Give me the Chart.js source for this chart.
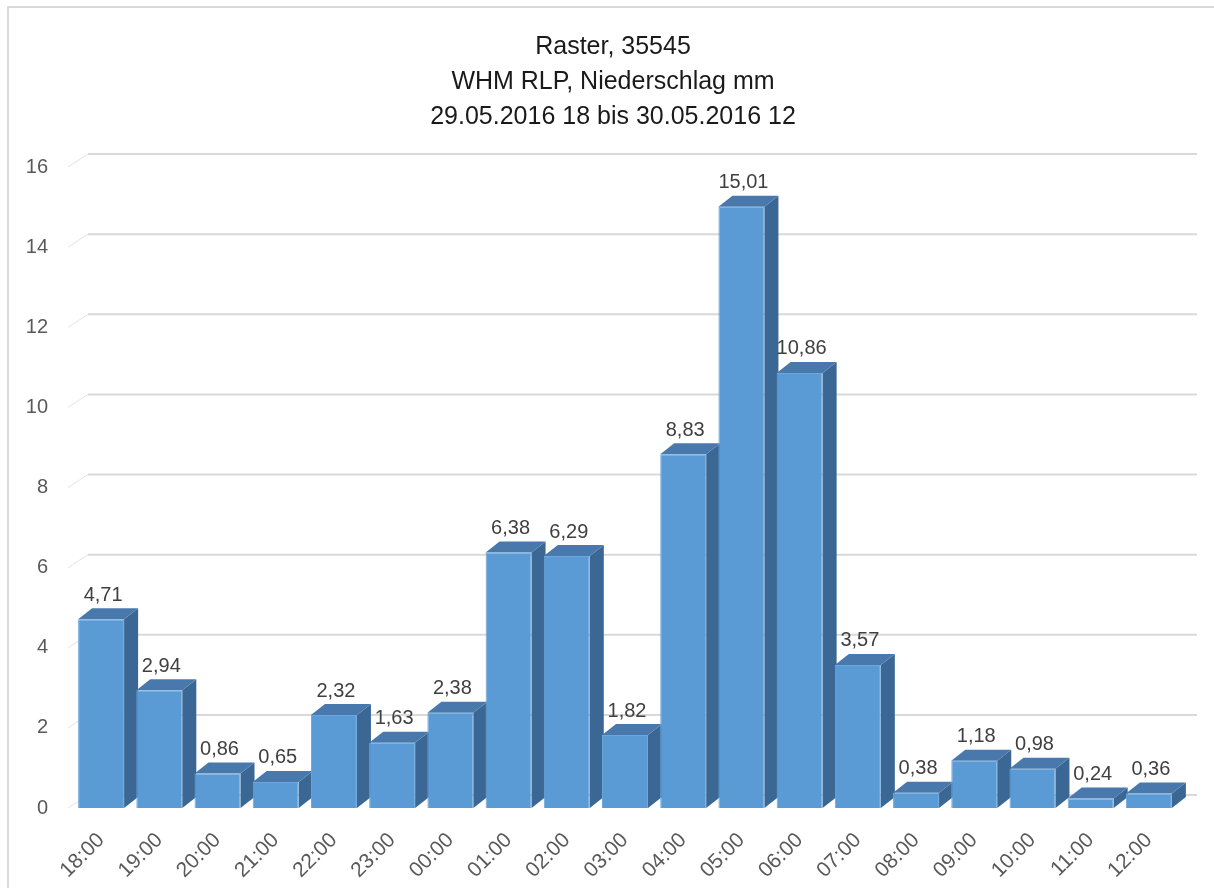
<!DOCTYPE html>
<html>
<head>
<meta charset="utf-8">
<script src="https://cdn.jsdelivr.net/npm/chart.js@4.4.1/dist/chart.umd.min.js"></script>
<style>
html,body{margin:0;padding:0;background:#fff;}
#wrap{width:1214px;height:888px;position:relative;}
</style>
</head>
<body>
<div id="wrap"><canvas id="c" width="1214" height="888"></canvas></div>
<script>
const categories = ["18:00","19:00","20:00","21:00","22:00","23:00","00:00","01:00","02:00","03:00","04:00","05:00","06:00","07:00","08:00","09:00","10:00","11:00","12:00"];
const precipitation = [4.71,2.94,0.86,0.65,2.32,1.63,2.38,6.38,6.29,1.82,8.83,15.01,10.86,3.57,0.38,1.18,0.98,0.24,0.36];
const yTicks = [0,2,4,6,8,10,12,14,16];
const titleLines = ["Raster, 35545","WHM RLP, Niederschlag mm","29.05.2016 18 bis 30.05.2016 12"];

const FONT = "'Liberation Sans', Arial, sans-serif";
const DEPTH_X = 14, DEPTH_Y = 11;   // bar depth
const WALL_X = 20, WALL_Y = 13;     // back wall offset

const borderPlugin = {
  id: 'frame',
  beforeDraw(chart) {
    const ctx = chart.ctx;
    ctx.save();
    ctx.fillStyle = '#fff';
    ctx.fillRect(0, 0, chart.width, chart.height);
    ctx.strokeStyle = '#d9d9d9';
    ctx.lineWidth = 2;
    ctx.strokeRect(8, 7, chart.width + 20, chart.height + 20);
    ctx.restore();
  }
};

const wallPlugin = {
  id: 'wall',
  beforeDatasetsDraw(chart) {
    const ctx = chart.ctx, y = chart.scales.y, a = chart.chartArea;
    ctx.save();
    yTicks.forEach(v => {
      const py = y.getPixelForValue(v);
      ctx.strokeStyle = '#e4e4e4';
      ctx.lineWidth = 1;
      ctx.beginPath();
      ctx.moveTo(a.left - 4, py);
      ctx.lineTo(a.left - 4 + WALL_X, py - WALL_Y);
      ctx.stroke();
      ctx.strokeStyle = '#d9d9d9';
      ctx.lineWidth = 2;
      ctx.beginPath();
      ctx.moveTo(a.left - 4 + WALL_X, py - WALL_Y);
      ctx.lineTo(a.right + 19, py - WALL_Y);
      ctx.stroke();
    });
    const meta = chart.getDatasetMeta(0);
    meta.data.forEach(bar => {
      const p = bar.getProps(['x','y','base','width'], true);
      const l = p.x - p.width / 2, r = p.x + p.width / 2, t = p.y, b = p.base;
      ctx.fillStyle = '#3B6794';
      ctx.beginPath();
      ctx.moveTo(r, t);
      ctx.lineTo(r + DEPTH_X, t - DEPTH_Y);
      ctx.lineTo(r + DEPTH_X, b - DEPTH_Y);
      ctx.lineTo(r, b);
      ctx.closePath();
      ctx.fill();
      ctx.fillStyle = '#4878AC';
      ctx.beginPath();
      ctx.moveTo(l, t);
      ctx.lineTo(l + DEPTH_X, t - DEPTH_Y);
      ctx.lineTo(r + DEPTH_X, t - DEPTH_Y);
      ctx.lineTo(r, t);
      ctx.closePath();
      ctx.fill();
    });
    ctx.restore();
  },
  afterDatasetsDraw(chart) {
    const ctx = chart.ctx;
    const meta = chart.getDatasetMeta(0);
    ctx.save();
    ctx.fillStyle = '#404040';
    ctx.font = '20px ' + FONT;
    ctx.textAlign = 'center';
    ctx.textBaseline = 'middle';
    meta.data.forEach((bar, i) => {
      const p = bar.getProps(['x','y'], true);
      ctx.fillText(precipitation[i].toFixed(2).replace('.', ','), p.x + 2, p.y - 24);
    });
    ctx.restore();
  }
};

new Chart(document.getElementById('c'), {
  type: 'bar',
  data: {
    labels: categories,
    datasets: [{
      data: precipitation,
      backgroundColor: '#5B9BD5',
      borderColor: '#6BA7DD',
      borderWidth: 1,
      barPercentage: 0.79,
      categoryPercentage: 1.0
    }]
  },
  plugins: [borderPlugin, wallPlugin],
  options: {
    responsive: false,
    animation: false,
    layout: { padding: { top: 30, left: 12, right: 0, bottom: 0 } },
    plugins: {
      legend: { display: false },
      tooltip: { enabled: false },
      title: {
        display: true,
        text: titleLines,
        color: '#1a1a1a',
        font: { family: FONT, size: 25, weight: 'normal', lineHeight: 1.4 },
        padding: { top: 0, bottom: 32 }
      }
    },
    scales: {
      x: {
        grid: { display: false, drawTicks: false },
        border: { display: false },
        ticks: {
          color: '#595959',
          font: { family: FONT, size: 21 },
          minRotation: 45, maxRotation: 45,
          padding: 20
        },
        afterFit(s) { s.height = 80; }
      },
      y: {
        min: 0, max: 16,
        grid: { display: false, drawTicks: false },
        border: { display: false },
        ticks: {
          stepSize: 2,
          color: '#595959',
          font: { family: FONT, size: 20 },
          padding: 24
        },
        afterFit(s) { s.width = 60; }
      },
      spacer: {
        type: 'linear',
        position: 'right',
        display: true,
        grid: { display: false, drawTicks: false },
        border: { display: false },
        ticks: { display: false },
        afterFit(s) { s.width = 36; }
      }
    }
  }
});
</script>
</body>
</html>
